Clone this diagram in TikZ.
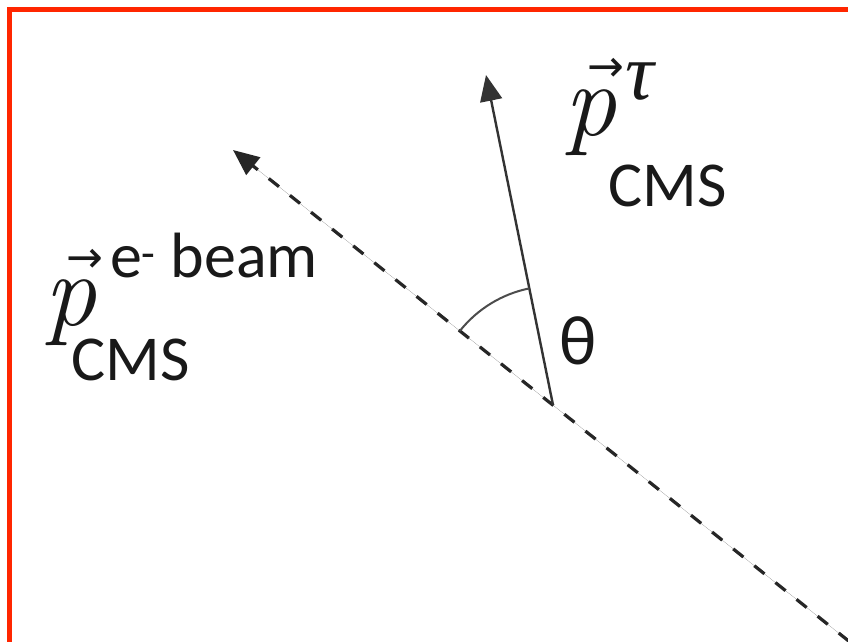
\documentclass[tikz,border=0pt]{standalone}
\usepackage{fontspec}
\usetikzlibrary{arrows.meta}
\newfontfamily\calib{Carlito}
\newfontfamily\tms{Liberation Serif}
\newfontfamily\djv{DejaVu Sans}
\definecolor{framered}{RGB}{255,38,0}
\begin{document}
\begin{tikzpicture}[x=1pt,y=1pt,
  lbl/.style={inner sep=0pt, outer sep=0pt, text=black!90},
  cms/.style={lbl, font=\calib\fontsize{64}{64}\selectfont},
  bigp/.style={lbl, font=\fontsize{104}{104}\selectfont\itshape},
  vecarr/.style={lbl, font=\djv\fontsize{44}{44}\selectfont},
  tip/.style={-{Triangle[length=26pt,width=22pt]}},
  beamline/.style={tip, line width=3.2pt, dash pattern=on 13pt off 14pt, draw=black!85, fill=black!85},
  vecline/.style={tip, line width=2.4pt, draw=black!80, fill=black!80},
  anglearc/.style={line width=2pt, draw=black!70}]
\useasboundingbox (0,0) rectangle (848,641);
\fill[white] (0,0) rectangle (848,641);
\draw[framered, line width=5pt] (9.5,-10) -- (9.5,631.5) -- (860,631.5);
\coordinate (O) at (553,236);
\coordinate (B) at (233,491);
\coordinate (E) at (870,-17);
\coordinate (T) at (486,566);
\draw[beamline] (E) -- (B);
\draw[vecline] (O) -- (T);
\draw[anglearc] ([shift={(101.5:119)}]O) arc[start angle=101.5, end angle=141.5, radius=119pt];
\node[bigp] (pt) at (590,518) {p};
\node[lbl, font=\tms\itshape\fontsize{80}{80}\selectfont] (tau) at (640,559) {τ};
\node[vecarr] (at) at (606,571) {→};
\node[cms] (ct) at (668,455) {CMS};
\node[bigp] (pb) at (70,328) {p};
\node[vecarr] (ab) at (85,380) {→};
\node[cms] (eb) at (214,385) {e\textsuperscript{-} beam};
\node[cms] (cb) at (131,281) {CMS};
\node[lbl, font=\calib\fontsize{70}{70}\selectfont] (th) at (578,300) {θ};
\end{tikzpicture}
\end{document}
